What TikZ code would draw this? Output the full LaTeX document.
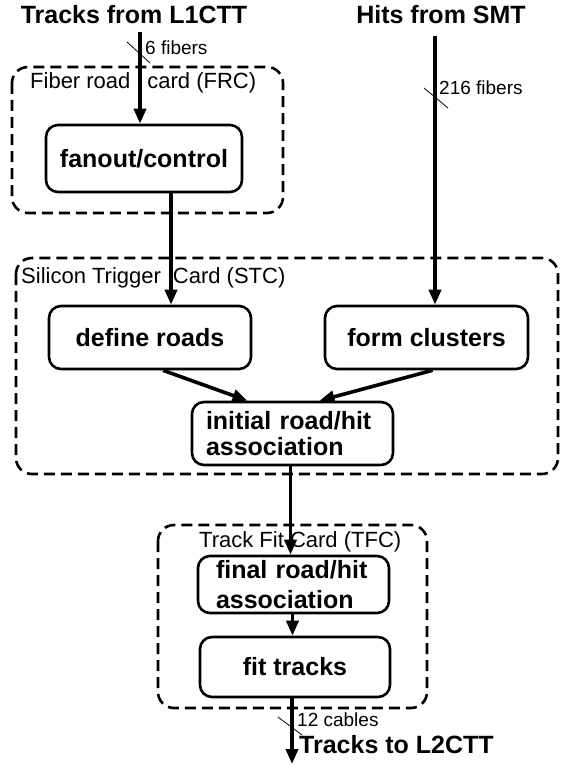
\documentclass[tikz,border=0pt]{standalone}
\usepackage{fontspec}
\setmainfont{Liberation Sans}
\usetikzlibrary{arrows.meta}
\newcommand{\titlefont}{\fontsize{25}{28}\selectfont\bfseries}
\newcommand{\cardfont}{\fontsize{22}{24}\selectfont}
\newcommand{\linefont}{\fontsize{19}{21}\selectfont}

\begin{document}
\begin{tikzpicture}[x=1pt,y=-1pt,
    procbox/.style={draw,line width=2.6pt,rounded corners=12pt,inner sep=0pt,font=\titlefont},
    card/.style={draw,line width=2.6pt,dash pattern=on 11pt off 6pt,rounded corners=16pt},
    flow/.style={line width=3.6pt,-{Triangle[length=15pt,width=12pt]}},
    tick/.style={line width=0.8pt}]
\useasboundingbox (0,0) rectangle (561,765);

    % inputs
    \node[font=\titlefont,inner sep=0pt] (l1ctt) at (134,15) {Tracks from L1CTT};
    \node[font=\titlefont,inner sep=0pt] (smt) at (441,15) {Hits from SMT};
    \coordinate (l1in) at (140,32);
    \coordinate (smtin) at (435,36);

    % cards
    \draw[card] (12,67) rectangle (283,213);
    \draw[card] (16,258) rectangle (558,474);
    \draw[card] (158,525) rectangle (427,708);
\node[font=\cardfont,inner sep=0pt,anchor=west] (frclab) at (30,83) {Fiber road\hspace{17pt}card (FRC)};
\node[font=\cardfont,inner sep=0pt,anchor=west] (stclab) at (21,278) {Silicon Trigger\hspace{12pt}Card (STC)};
\node[font=\cardfont,inner sep=0pt,anchor=west] (tfclab) at (199,542) {Track Fit Card (TFC)};

    % processing steps
\node[procbox,minimum width=196pt,minimum height=67pt] (fanout) at (144,158.5) {fanout/control};
\node[procbox,minimum width=202pt,minimum height=63pt] (defroads) at (150,337.5) {define roads};
\node[procbox,minimum width=203pt,minimum height=63pt] (formcl) at (426.5,337.5) {form clusters};
\node[procbox,minimum height=63pt,text width=173pt,inner xsep=14pt,align=left,
      font={\fontsize{25}{26}\selectfont\bfseries}] (initial) at (292.5,433.5) {initial road/hit\\association};
\node[procbox,minimum height=57pt,text width=155pt,inner xsep=18pt,align=left,
      font={\fontsize{25}{30}\selectfont\bfseries}] (final) at (293.5,584.5) {final road/hit\\association};
\node[procbox,minimum width=190pt,minimum height=60pt] (fit) at (295,667) {fit tracks};

    % data flow
    \draw[flow] (l1in) -- (l1in |- fanout.north);
    \draw[flow] (smtin) -- (smtin |- formcl.north);
    \draw[flow] ([xshift=27pt]fanout.south) -- ([xshift=27pt]fanout.south |- defroads.north);
    \draw[flow] ([xshift=13pt]defroads.south) -- ([xshift=-45pt]initial.north);
    \draw[flow] ([xshift=6pt]formcl.south) -- ([xshift=27pt]initial.north);
    \draw[flow] ([xshift=-2pt]initial.south) -- ([xshift=-2pt]initial.south |- final.north);
    \draw[flow] ([xshift=-1pt]final.south) -- ([xshift=-1pt]final.south |- fit.north);
    \coordinate (l2out) at (292,764);
    \draw[flow] (fit.south -| l2out) -- (l2out);

    % fiber counts
    \draw[tick] (127,42) -- (150,63);
\node[font=\linefont,inner sep=0pt,anchor=west] (nfrc) at (145,48) {6 fibers};
    \draw[tick] (424,88) -- (448,108);
\node[font=\linefont,inner sep=0pt,anchor=west] (nsmt) at (439,88) {216 fibers};
    \draw[tick] (278,717) -- (302,735);
\node[font=\linefont,inner sep=0pt,anchor=west] (nout) at (297,720) {12 cables};
\node[font=\titlefont,inner sep=0pt,anchor=west] (l2ctt) at (299,745) {Tracks to L2CTT};

      \end{tikzpicture}
\end{document}
